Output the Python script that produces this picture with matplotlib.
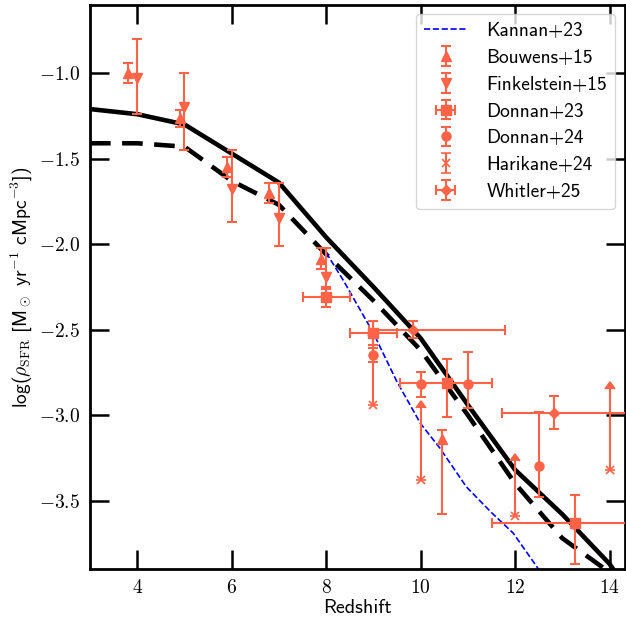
import matplotlib
matplotlib.use("Agg")
import matplotlib.pyplot as plt
from matplotlib.ticker import MultipleLocator, FuncFormatter
import numpy as np

plt.rcParams['font.family'] = ['cmss10', 'DejaVu Sans']
plt.rcParams['mathtext.fontset'] = 'cm'
plt.rcParams['axes.unicode_minus'] = False

# ---- model curves ----
solid_z = [3, 4, 5, 6, 7, 8, 9, 10, 11, 12, 13, 14, 14.2]
solid_y = [-1.21, -1.24, -1.30, -1.47, -1.64, -1.96, -2.25, -2.55, -2.94, -3.32, -3.58, -3.87, -3.95]
dash_z = [3, 4, 5, 6, 7, 8, 9, 10, 11, 12, 13, 14]
dash_y = [-1.41, -1.41, -1.43, -1.63, -1.77, -2.06, -2.33, -2.62, -3.00, -3.40, -3.72, -3.92]
kannan_z = [8.0, 8.36, 9.0, 9.49, 10.0, 10.4, 10.97, 11.5, 11.96, 12.52, 13.0]
kannan_y = [-2.05, -2.21, -2.52, -2.80, -3.05, -3.19, -3.42, -3.57, -3.69, -3.91, -4.15]

# ---- observations ----
bou_z = [3.8, 4.9, 5.9, 6.8, 7.9, 10.45]
bou_y = [-1.00, -1.265, -1.55, -1.70, -2.085, -3.14]
bou_ylo = [0.06, 0.05, 0.06, 0.06, 0.06, 0.44]
bou_yhi = [0.06, 0.05, 0.06, 0.06, 0.06, 0.05]

fin_z = [4.0, 5.0, 6.0, 7.0, 8.0]
fin_y = [-1.03, -1.20, -1.68, -1.85, -2.19]
fin_ylo = [0.21, 0.25, 0.19, 0.16, 0.06]
fin_yhi = [0.23, 0.20, 0.23, 0.21, 0.17]

don23_z = [8.0, 9.0, 10.56, 13.27]
don23_y = [-2.31, -2.52, -2.81, -3.63]
don23_xlo = [0.5, 0.5, 1.0, 1.75]
don23_xhi = [0.5, 0.5, 0.95, 1.75]
don23_ylo = [0.06, 0.07, 0.20, 0.24]
don23_yhi = [0.05, 0.07, 0.14, 0.16]

don24_z = [9.0, 10.0, 11.0, 12.5]
don24_y = [-2.65, -2.82, -2.82, -3.30]
don24_ylo = [0.04, 0.075, 0.14, 0.18]
don24_yhi = [0.04, 0.075, 0.19, 0.32]

har_z = [9.0, 10.0, 12.0, 14.0]
har_y = [-2.94, -3.38, -3.59, -3.32]
har_yerr = [0.40, 0.42, 0.32, 0.47]

whi_z = [9.83, 12.82]
whi_y = [-2.50, -2.99]
whi_xlo = [0.93, 1.10]
whi_xhi = [1.96, 2.20]
whi_ylo = [0.05, 0.09]
whi_yhi = [0.05, 0.10]

col = 'tomato'

fig = plt.figure(figsize=(6.26, 6.20), dpi=100)
ax = fig.add_axes([0.1438, 0.0823, 0.854, 0.910])

ax.plot(solid_z, solid_y, color='black', lw=3.3, solid_joinstyle='miter', zorder=2)
ax.plot(dash_z, dash_y, color='black', lw=3.3, dashes=(4.5, 2.5), zorder=2)
ax.plot(kannan_z, kannan_y, color='blue', lw=1.2, ls='--', label='Kannan+23', zorder=2)

eb = dict(color=col, ecolor=col, elinewidth=1.5, capsize=3.5, capthick=1.5, ls='none', zorder=3)
ax.errorbar(bou_z, bou_y, yerr=[bou_ylo, bou_yhi], fmt='^', ms=7, label='Bouwens+15', **eb)
ax.errorbar(fin_z, fin_y, yerr=[fin_ylo, fin_yhi], fmt='v', ms=7, label='Finkelstein+15', **eb)
ax.errorbar(don23_z, don23_y, xerr=[don23_xlo, don23_xhi], yerr=[don23_ylo, don23_yhi],
            fmt='s', ms=6.5, label='Donnan+23', **eb)
ax.errorbar(don24_z, don24_y, yerr=[don24_ylo, don24_yhi], fmt='o', ms=6.5, label='Donnan+24', **eb)
ax.errorbar(har_z, har_y, yerr=har_yerr, lolims=True, fmt='x', ms=6, mew=1.2,
            label='Harikane+24', **eb)
ax.errorbar(whi_z, whi_y, xerr=[whi_xlo, whi_xhi], yerr=[whi_ylo, whi_yhi], fmt='D', ms=5,
            label='Whitler+25', **eb)

ax.set_xlim(3, 14.32)
ax.set_ylim(-3.9, -0.6)
ax.xaxis.set_major_locator(MultipleLocator(2))
ax.yaxis.set_major_locator(MultipleLocator(0.5))
ax.xaxis.set_major_formatter(FuncFormatter(lambda v, p: f'${v:.0f}$'))
ax.yaxis.set_major_formatter(FuncFormatter(lambda v, p: f'${v:.1f}$'))
ax.tick_params(which='major', direction='in', length=14, width=1.8, top=True, right=True,
               labelsize=14, pad=7)
for s in ax.spines.values():
    s.set_linewidth(2.0)

ax.set_xlabel('Redshift', fontsize=14.5, labelpad=2)
ax.set_ylabel(r'log($\rho_{\rm SFR}$ [M$_\odot$ yr$^{-1}$ cMpc$^{-3}$])', fontsize=14, labelpad=4)

ax.legend(loc='upper right', fontsize=14, handlelength=2.2, handletextpad=1.0,
          labelspacing=0.45, borderaxespad=0.5, framealpha=0.8)

fig.savefig('out.png', dpi=100)
